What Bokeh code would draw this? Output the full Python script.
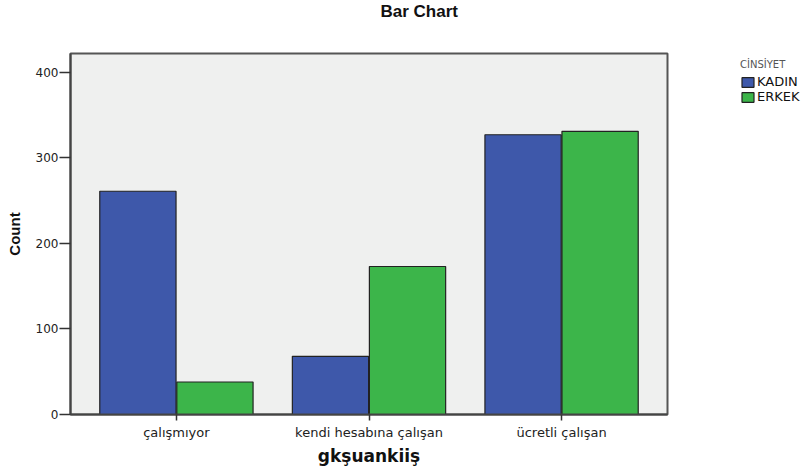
from bokeh.plotting import figure
from bokeh.models import FactorRange, Range1d, FixedTicker, Legend, LegendItem, ColumnDataSource, Title
from bokeh.transform import dodge
from bokeh.embed import file_html
from bokeh.resources import INLINE

categories = ["çalışmıyor", "kendi hesabına çalışan", "ücretli çalışan"]
kadin = [261, 68, 327]
erkek = [38, 173, 331]
series_names = ["KADIN", "ERKEK"]
series_colors = ["#3e58aa", "#3cb54a"]
y_ticks = [0, 100, 200, 300, 400]

src = ColumnDataSource(dict(cat=categories, KADIN=kadin, ERKEK=erkek))

p = figure(
    x_range=FactorRange(factors=categories, range_padding=0.05, range_padding_units="absolute"),
    y_range=Range1d(0, 422),
    frame_width=597, frame_height=361,
    min_border_left=70, min_border_top=53, min_border_bottom=52, min_border_right=40,
    output_backend="svg", toolbar_location=None,
)
p.title = None
p.background_fill_color = "#eff0ef"
p.border_fill_color = "white"
p.outline_line_color = "#555555"
p.outline_line_width = 2
p.xgrid.visible = False
p.ygrid.visible = False

renderers = []
for name, color, off in zip(series_names, series_colors, [-0.2, 0.2]):
    r = p.vbar(x=dodge("cat", off, range=p.x_range), top=name, width=0.396, source=src,
               fill_color=color, line_color="#222222", line_width=1.2)
    renderers.append(r)

p.yaxis.ticker = FixedTicker(ticks=y_ticks)
p.yaxis.minor_tick_line_color = None
for ax in (p.xaxis, p.yaxis):
    ax.axis_line_color = "#444444"
    ax.axis_line_width = 2
    ax.major_tick_line_color = "#333333"
    ax.major_tick_line_width = 1.5
    ax.major_tick_in = 0
    ax.major_label_text_font = "DejaVu Sans"
    ax.major_label_text_color = "#222222"
    ax.axis_label_text_font_style = "bold"
    ax.axis_label_text_color = "#111111"
p.xaxis.major_label_text_font_size = "13px"
p.yaxis.major_label_text_font_size = "12px"
p.xaxis.major_tick_out = 6
p.yaxis.major_tick_out = 11
p.xaxis.major_label_standoff = 4
p.yaxis.major_label_standoff = 1
p.yaxis.axis_label = "Count"
p.yaxis.axis_label_text_font = "Liberation Sans"
p.yaxis.axis_label_text_font_size = "15px"
p.yaxis.axis_label_standoff = 10
p.xaxis.axis_label = "gkşuankiiş"
p.xaxis.axis_label_text_font = "DejaVu Sans"
p.xaxis.axis_label_text_font_size = "17px"
p.xaxis.axis_label_standoff = 3

# spacer title (nearest the frame) pushes the real title up
spacer = Title(text=" ", text_font_size="10px", standoff=17)
p.add_layout(spacer, "above")
t = Title(text="Bar Chart", align="left", offset=310, vertical_align="top",
          text_font="Liberation Sans", text_font_size="17px", text_font_style="bold",
          text_color="#111111", standoff=2)
p.add_layout(t, "above")

legend = Legend(items=[LegendItem(label=n, renderers=[r]) for n, r in zip(series_names, renderers)],
                title="CİNSİYET", location=(73, 310))
legend.title_text_font = "DejaVu Sans"
legend.title_text_font_size = "10px"
legend.title_text_color = "#555555"
legend.title_text_font_style = "normal"
legend.title_standoff = 4
legend.label_text_font = "DejaVu Sans"
legend.label_text_font_size = "13px"
legend.label_text_color = "#111111"
legend.glyph_width = 15
legend.glyph_height = 12
legend.spacing = 0
legend.label_standoff = 2
legend.padding = 0
legend.margin = 0
legend.border_line_color = None
legend.background_fill_alpha = 0
p.add_layout(legend, "right")

open("out.html", "w").write(file_html(p, INLINE))
